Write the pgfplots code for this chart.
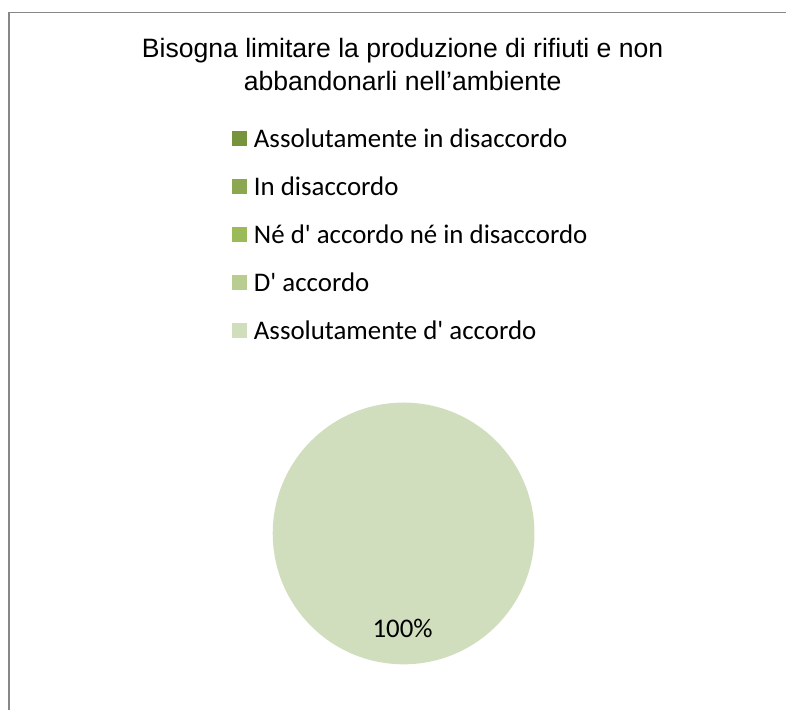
\documentclass[border=0pt]{standalone}
\usepackage{pgfplots}
\pgfplotsset{compat=1.18}
\usepackage{pgfplotstable}
\usepackage{fontspec}
\setmainfont{Carlito}
\newfontfamily\titlefont{Liberation Sans}
\newfontfamily\legfont{Carlito}[Ligatures=TeXOff]

\definecolor{c1}{HTML}{77933C}
\definecolor{c2}{HTML}{8CA750}
\definecolor{c3}{HTML}{9BBB59}
\definecolor{c4}{HTML}{B9CD93}
\definecolor{c5}{HTML}{D1DEBE}
\definecolor{frame}{HTML}{878787}

% share of answers per category (percent)
\pgfplotstableread{
idx value
1 0
2 0
3 0
4 0
5 100
}\piedata

\pgfplotstablegetelem{0}{value}\of\piedata \pgfmathsetmacro\vA{\pgfplotsretval}
\pgfplotstablegetelem{1}{value}\of\piedata \pgfmathsetmacro\vB{\pgfplotsretval}
\pgfplotstablegetelem{2}{value}\of\piedata \pgfmathsetmacro\vC{\pgfplotsretval}
\pgfplotstablegetelem{3}{value}\of\piedata \pgfmathsetmacro\vD{\pgfplotsretval}
\pgfplotstablegetelem{4}{value}\of\piedata \pgfmathsetmacro\vE{\pgfplotsretval}
\pgfmathsetmacro\tot{\vA+\vB+\vC+\vD+\vE}
% slices go clockwise from 12 o'clock
\pgfmathsetmacro\sA{90}
\pgfmathsetmacro\sB{\sA-\vA/\tot*360}
\pgfmathsetmacro\sC{\sB-\vB/\tot*360}
\pgfmathsetmacro\sD{\sC-\vC/\tot*360}
\pgfmathsetmacro\sE{\sD-\vD/\tot*360}
\pgfmathsetmacro\eE{\sE-\vE/\tot*360}
\pgfmathsetmacro\pE{\vE/\tot*100}

\begin{document}
\begin{tikzpicture}
\begin{axis}[
  scale only axis, width=787bp, height=711bp,
  xmin=0, xmax=787, ymin=0, ymax=711,
  hide axis, clip=false,
  title={Bisogna limitare la produzione di rifiuti e non\\abbandonarli nell’ambiente},
  title style={at={(403/787,0.9375)}, anchor=north, align=center, inner sep=0pt,
    font=\titlefont\fontsize{26.7}{33}\selectfont},
  legend image code/.code={\fill[#1, draw=none] (0bp,-5.5bp) rectangle (15bp,9.5bp); \path[draw=none, fill=none] (0bp,0bp) -- (22bp,0bp);},
  legend cell align=left,
  legend style={at={(232/787,0.8214)}, anchor=north west, draw=none, fill=none,
    inner sep=0pt, column sep=0pt, row sep=22.25bp,
    font=\legfont\fontsize{27}{32}\selectfont,
    nodes={inner sep=0pt, text height=20bp, text depth=6bp}},
]
\path (axis cs:0,0) rectangle (axis cs:787,711);
\draw[frame, line width=1.6bp] (axis cs:9,0) -- (axis cs:9,698.5) -- (axis cs:787,698.5);

\fill[c1] (axis cs:404,177) -- +(\sA:131bp) arc[start angle=\sA, end angle=\sB, radius=131bp] -- cycle;
\fill[c2] (axis cs:404,177) -- +(\sB:131bp) arc[start angle=\sB, end angle=\sC, radius=131bp] -- cycle;
\fill[c3] (axis cs:404,177) -- +(\sC:131bp) arc[start angle=\sC, end angle=\sD, radius=131bp] -- cycle;
\fill[c4] (axis cs:404,177) -- +(\sD:131bp) arc[start angle=\sD, end angle=\sE, radius=131bp] -- cycle;
\fill[c5] (axis cs:404,177) -- +(\sE:131bp) arc[start angle=\sE, end angle=\eE, radius=131bp] -- cycle;
\node[font=\legfont\fontsize{27}{32}\selectfont] at (axis cs:403,82) {\pgfmathprintnumber[fixed,precision=0,assume math mode=true]{\pE}\%};

\addlegendimage{c1}
\addlegendimage{c2}
\addlegendimage{c3}
\addlegendimage{c4}
\addlegendimage{c5}
\legend{Assolutamente in disaccordo, In disaccordo, Né d' accordo né in disaccordo, D' accordo, Assolutamente d' accordo}
\end{axis}
\end{tikzpicture}
\end{document}
